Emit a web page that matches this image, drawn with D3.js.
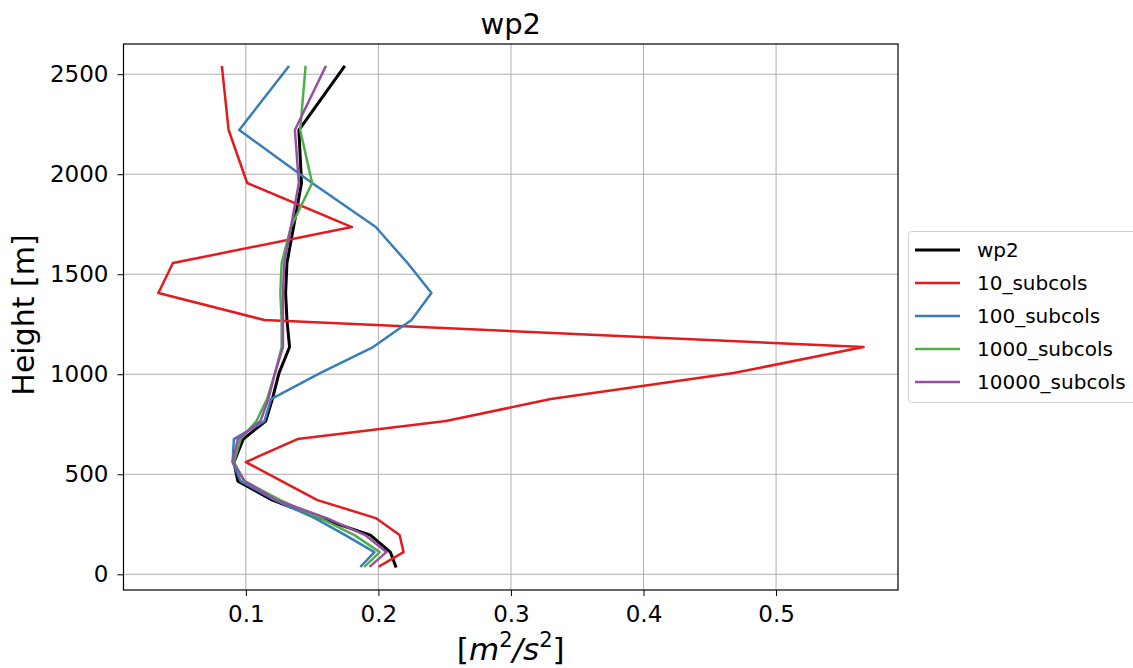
<!DOCTYPE html>
<html><head><meta charset="utf-8">
<script src="https://cdn.jsdelivr.net/npm/d3@7"></script>
<style>body{margin:0;background:#fff}svg{display:block}text{font-family:"DejaVu Sans",sans-serif}</style>
</head><body>
<svg id="c" width="1133" height="668"></svg>
<script>
const heights = [41,111,196,281,371,466,561,676,766,876,1006,1136,1271,1406,1556,1736,1956,2221,2536];
const seriesNames = ["wp2","10_subcols","100_subcols","1000_subcols","10000_subcols"];
const colors = ["#000000","#e41a1c","#377eb8","#4daf4a","#984ea3"];
const wp2       = [0.213,0.209,0.194,0.156,0.120,0.094,0.091,0.098,0.115,0.120,0.125,0.133,0.131,0.130,0.131,0.136,0.142,0.140,0.174];
const sub10     = [0.201,0.219,0.216,0.198,0.154,0.127,0.100,0.139,0.251,0.330,0.468,0.566,0.114,0.034,0.045,0.180,0.101,0.087,0.082];
const sub100    = [0.187,0.197,0.175,0.152,0.122,0.096,0.090,0.091,0.114,0.119,0.156,0.196,0.225,0.240,0.222,0.198,0.150,0.095,0.132];
const sub1000   = [0.190,0.201,0.182,0.156,0.126,0.099,0.091,0.096,0.108,0.116,0.122,0.127,0.127,0.126,0.127,0.134,0.150,0.141,0.145];
const sub10000  = [0.194,0.206,0.190,0.161,0.123,0.099,0.090,0.094,0.111,0.117,0.122,0.128,0.128,0.128,0.129,0.134,0.140,0.137,0.160];
const xTicks = [0.1,0.2,0.3,0.4,0.5];
const yTicks = [0,500,1000,1500,2000,2500];
const allSeries = [wp2,sub10,sub100,sub1000,sub10000];

const svg = d3.select("#c");
const L=123.5,R=898,T=44,B=590;
const x = d3.scaleLinear().domain([0.0077,0.592]).range([L,R]);
const y = d3.scaleLinear().domain([-78.5,2651]).range([B,T]);

// grid
svg.append("g").selectAll("line").data(xTicks).join("line")
  .attr("x1",d=>x(d)).attr("x2",d=>x(d)).attr("y1",T).attr("y2",B)
  .attr("stroke","#b0b0b0").attr("stroke-width",1);
svg.append("g").selectAll("line").data(yTicks).join("line")
  .attr("y1",d=>y(d)).attr("y2",d=>y(d)).attr("x1",L).attr("x2",R)
  .attr("stroke","#b0b0b0").attr("stroke-width",1);

// lines
const line = d3.line().x(d=>x(d[0])).y(d=>y(d[1]));
allSeries.forEach((s,i)=>{
  svg.append("path").datum(s.map((v,j)=>[v,heights[j]]))
    .attr("d",line).attr("fill","none").attr("stroke",colors[i])
    .attr("stroke-width", i===0?3:2.5).attr("stroke-linejoin","round").attr("stroke-linecap","square");
});

// axes
const xa = svg.append("g").attr("transform",`translate(0,${B})`)
  .call(d3.axisBottom(x).tickValues(xTicks).tickFormat(d3.format(".1f")).tickSize(6).tickPadding(9.5));
const ya = svg.append("g").attr("transform",`translate(${L},0)`)
  .call(d3.axisLeft(y).tickValues(yTicks).tickFormat(d=>d).tickSize(6).tickPadding(9));
[xa,ya].forEach(a=>{a.select(".domain").remove();a.selectAll("text").attr("font-size",23).attr("fill","#000").style("font-family","DejaVu Sans");a.selectAll("line").attr("stroke","#000");});

svg.append("rect").attr("x",L).attr("y",T).attr("width",R-L).attr("height",B-T)
  .attr("fill","none").attr("stroke","#000").attr("stroke-width",1.2);

// title and labels
svg.append("text").attr("x",(L+R)/2).attr("y",34).attr("text-anchor","middle").attr("font-size",29).text("wp2");
svg.append("text").attr("transform",`translate(34,${(T+B)/2 - 2}) rotate(-90)`).attr("text-anchor","middle").attr("font-size",30).text("Height [m]");
const xl = svg.append("text").attr("x",(L+R)/2).attr("y",660).attr("text-anchor","middle").attr("font-size",31);
xl.append("tspan").text("[");
xl.append("tspan").attr("font-style","italic").text("m");
xl.append("tspan").attr("font-size",21).attr("dy",-13).text("2");
xl.append("tspan").attr("dy",13).attr("font-style","italic").text("/s");
xl.append("tspan").attr("font-size",21).attr("dy",-13).text("2");
xl.append("tspan").attr("dy",13).text("]");

// legend
const lg = svg.append("g");
lg.append("rect").attr("x",908.5).attr("y",231.5).attr("width",240).attr("height",171).attr("rx",3)
  .attr("fill","#fff").attr("stroke","#d0d0d0").attr("stroke-width",1);
seriesNames.forEach((n,i)=>{
  const yy = 250 + i*33;
  lg.append("line").attr("x1",915).attr("x2",960).attr("y1",yy).attr("y2",yy).attr("stroke",colors[i]).attr("stroke-width",i===0?3:2.5);
  lg.append("text").attr("x",977).attr("y",yy+7).attr("font-size",20).text(n);
});
</script>
</body></html>
